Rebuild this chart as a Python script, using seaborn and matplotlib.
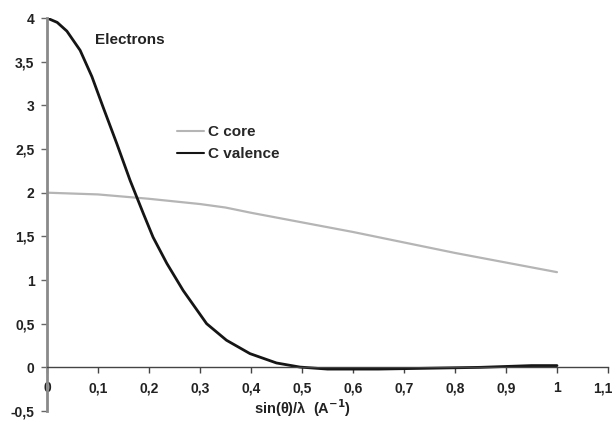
import matplotlib
matplotlib.use("Agg")
import matplotlib.pyplot as plt
import matplotlib.transforms as mtransforms
import seaborn as sns
import pandas as pd

# valeurs
s_valence = [0.0, 0.02, 0.039, 0.065, 0.088, 0.11, 0.137, 0.163, 0.176, 0.189, 0.208, 0.235,
             0.267, 0.313, 0.352, 0.398, 0.45, 0.496, 0.55, 0.6, 0.65, 0.7, 0.75,
             0.8, 0.85, 0.9, 0.95, 1.0]
f_valence = [4.0, 3.95, 3.85, 3.63, 3.33, 2.98, 2.56, 2.14, 1.95, 1.76, 1.49, 1.19,
             0.88, 0.50, 0.31, 0.157, 0.05, 0.003, -0.02, -0.02, -0.02, -0.015, -0.01,
             -0.005, 0.0, 0.01, 0.02, 0.02]

s_core = [0.0, 0.1, 0.2, 0.3, 0.35, 0.4, 0.5, 0.6, 0.7, 0.8, 0.9, 1.0]
f_core = [2.0, 1.98, 1.93, 1.87, 1.83, 1.77, 1.66, 1.55, 1.43, 1.31, 1.2, 1.09]

x_ticks = [0, 0.1, 0.2, 0.3, 0.4, 0.5, 0.6, 0.7, 0.8, 0.9, 1.0, 1.1]
y_ticks = [-0.5, 0, 0.5, 1, 1.5, 2, 2.5, 3, 3.5, 4]


def virgule(v):
    return f"{v:g}".replace(".", ",")


df = pd.concat([
    pd.DataFrame({"s": s_core, "f": f_core, "serie": "C core"}),
    pd.DataFrame({"s": s_valence, "f": f_valence, "serie": "C valence"}),
])

sns.set_style("white")
plt.rcParams["font.family"] = ["Liberation Sans", "DejaVu Sans"]
plt.rcParams["font.weight"] = "bold"

fig = plt.figure(figsize=(6.15, 4.26), dpi=100)
ax = fig.add_axes([0.0764, 0.0352, 0.9122, 0.9225])

sns.lineplot(data=df, x="s", y="f", hue="serie", sort=False,
             palette={"C core": "#b5b5b5", "C valence": "#151515"},
             ax=ax, legend=True)
for line, lw in zip(ax.lines, [1.6, 2.0]):
    line.set_linewidth(lw)

ax.set_xlim(0, 1.1)
ax.set_ylim(-0.5, 4)
ax.set_xticks(x_ticks)
ax.set_xticklabels([virgule(v) for v in x_ticks])
ax.set_yticks(y_ticks)
ax.set_yticklabels([virgule(v) for v in y_ticks])

for side in ["top", "right"]:
    ax.spines[side].set_visible(False)
ax.spines["bottom"].set_position(("data", 0))
ax.spines["bottom"].set_color("#444444")
ax.spines["bottom"].set_linewidth(1.0)
ax.spines["left"].set_color("#8a8a8a")
ax.spines["left"].set_linewidth(2.0)

ax.tick_params(axis="x", direction="out", length=4, width=1, color="#444444",
               labelsize=10, pad=6, bottom=True)
ax.tick_params(axis="y", direction="out", length=4, width=1, color="#666666",
               labelsize=10, pad=5, left=True)
for lab in ax.get_xticklabels() + ax.get_yticklabels():
    lab.set_fontweight("bold")
    lab.set_color("#222222")

# le dernier libelle touche le bord droit
last = ax.get_xticklabels()[-1]
last.set_transform(last.get_transform()
                   + mtransforms.ScaledTranslation(-4 / 72, 0, fig.dpi_scale_trans))

ax.set_xlabel("sin(θ)/λ  (A$^{-1}$)", fontsize=10.5, fontweight="bold", color="#222222")
ax.xaxis.set_label_coords(0.456, 0.008)
ax.xaxis.label.set_va("center")
ax.set_ylabel("")

ax.text(0.094, 3.745, "Electrons", fontsize=11, fontweight="bold", color="#222222",
        va="center", ha="left")

ax.legend(loc="upper left", bbox_to_anchor=(0.232, 0.727), frameon=False,
          borderaxespad=0, borderpad=0,
          handlelength=1.75, handletextpad=0.25, labelspacing=0.5,
          prop={"size": 11, "weight": "bold"})

fig.savefig("out.png", dpi=100)
